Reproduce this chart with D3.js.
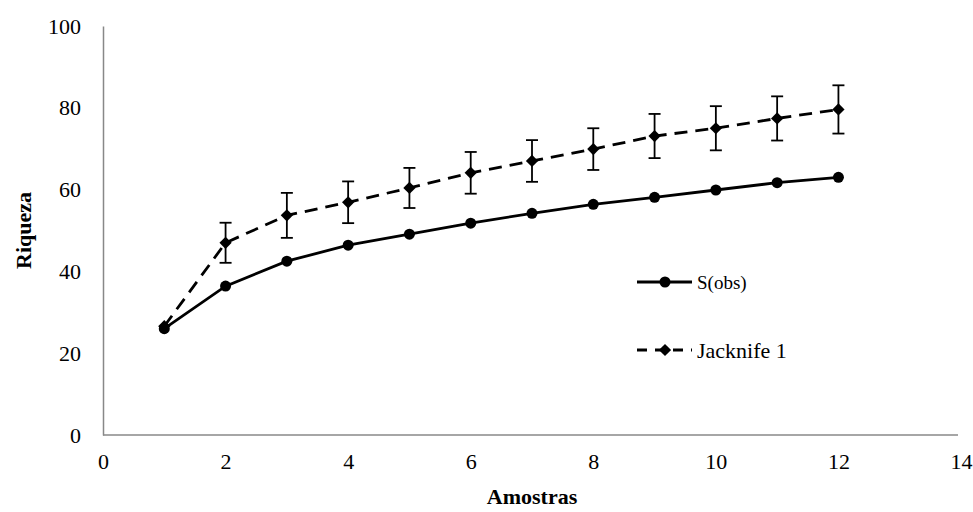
<!DOCTYPE html>
<html>
<head>
<meta charset="utf-8">
<script src="https://cdn.jsdelivr.net/npm/d3@7"></script>
<style>
  body { margin: 0; background: #fff; }
</style>
</head>
<body>
<div id="chart"></div>
<script>
// data
const samples = [1, 2, 3, 4, 5, 6, 7, 8, 9, 10, 11, 12];
const sObs = [26.0, 36.4, 42.5, 46.4, 49.1, 51.8, 54.2, 56.4, 58.1, 59.9, 61.7, 63.0];
const jack1 = [26.6, 47.0, 53.7, 56.9, 60.4, 64.1, 67.0, 69.9, 73.1, 75.0, 77.4, 79.6];
const jackErr = [0, 4.9, 5.5, 5.1, 4.9, 5.1, 5.1, 5.1, 5.4, 5.4, 5.4, 5.9];
const xTicks = [0, 2, 4, 6, 8, 10, 12, 14];
const yTicks = [0, 20, 40, 60, 80, 100];

const serif = "'Liberation Serif', 'Times New Roman', Times, 'DejaVu Serif', serif";
const width = 973, height = 512;
const margin = {top: 26, right: 12, bottom: 77, left: 103};

const svg = d3.select("#chart")
    .append("svg")
    .attr("width", width)
    .attr("height", height)
    .style("font-family", serif);

const x = d3.scaleLinear().domain([0, 14]).range([margin.left, width - margin.right]);
const y = d3.scaleLinear().domain([0, 100]).range([height - margin.bottom, margin.top]);

// axes
const xAxis = svg.append("g")
    .attr("transform", `translate(0,${height - margin.bottom})`)
    .call(d3.axisBottom(x).tickValues(xTicks).tickSize(0).tickPadding(18));
xAxis.attr("font-family", null);
xAxis.select(".domain").attr("stroke", "#888").attr("stroke-width", 1.5)
    .attr("d", `M${margin.left},0H${width - 15}`);
xAxis.selectAll("text").attr("fill", "#000")
    .style("font-family", serif).style("font-size", "22px");

const yAxis = svg.append("g")
    .attr("transform", `translate(${margin.left},0)`)
    .call(d3.axisLeft(y).tickValues(yTicks).tickSize(0).tickPadding(22));
yAxis.attr("font-family", null);
yAxis.select(".domain").attr("stroke", "#888").attr("stroke-width", 1.5);
yAxis.selectAll("text").attr("fill", "#000")
    .style("font-family", serif).style("font-size", "22px");

// axis titles
svg.append("text")
    .attr("x", x(7)).attr("y", 504)
    .attr("text-anchor", "middle")
    .style("font-family", serif).style("font-size", "22px").style("font-weight", "bold")
    .text("Amostras");
svg.append("text")
    .attr("transform", `translate(31,${y(50)}) rotate(-90)`)
    .attr("text-anchor", "middle")
    .style("font-family", serif).style("font-size", "22px").style("font-weight", "bold")
    .text("Riqueza");

const line = d3.line().x((d, i) => x(samples[i])).y(d => y(d));

// jackknife 1 (dashed) with error bars
svg.append("path")
    .datum(jack1)
    .attr("fill", "none")
    .attr("stroke", "#000")
    .attr("stroke-width", 2.8)
    .attr("stroke-dasharray", "13,8")
    .attr("d", line);

const err = svg.append("g").attr("stroke", "#000").attr("stroke-width", 1.8);
samples.forEach((s, i) => {
  if (!jackErr[i]) return;
  const cx = x(s), top = y(jack1[i] + jackErr[i]), bot = y(jack1[i] - jackErr[i]);
  err.append("line").attr("x1", cx).attr("x2", cx).attr("y1", top).attr("y2", bot);
  err.append("line").attr("x1", cx - 6).attr("x2", cx + 6).attr("y1", top).attr("y2", top);
  err.append("line").attr("x1", cx - 6).attr("x2", cx + 6).attr("y1", bot).attr("y2", bot);
});

const diamond = d3.symbol().type(d3.symbolSquare).size(75);
svg.selectAll(".jk")
    .data(jack1)
    .enter()
    .append("path")
    .attr("class", "jk")
    .attr("transform", (d, i) => `translate(${x(samples[i])},${y(d)}) rotate(45)`)
    .attr("d", diamond)
    .attr("fill", "#000");

// S(obs) solid
svg.append("path")
    .datum(sObs)
    .attr("fill", "none")
    .attr("stroke", "#000")
    .attr("stroke-width", 2.8)
    .attr("d", line);

svg.selectAll(".obs")
    .data(sObs)
    .enter()
    .append("circle")
    .attr("class", "obs")
    .attr("cx", (d, i) => x(samples[i]))
    .attr("cy", d => y(d))
    .attr("r", 5.5)
    .attr("fill", "#000");

// legend
const lg = svg.append("g");
lg.append("line").attr("x1", 637).attr("x2", 692).attr("y1", 282).attr("y2", 282)
    .attr("stroke", "#000").attr("stroke-width", 2.8);
lg.append("circle").attr("cx", 665).attr("cy", 282).attr("r", 5.5).attr("fill", "#000");
lg.append("text").attr("x", 697).attr("y", 289)
    .style("font-family", serif).style("font-size", "19px").text("S(obs)");

lg.append("line").attr("x1", 637).attr("x2", 692).attr("y1", 350).attr("y2", 350)
    .attr("stroke", "#000").attr("stroke-width", 2.8).attr("stroke-dasharray", "10,8");
lg.append("path").attr("transform", "translate(665,350) rotate(45)").attr("d", diamond).attr("fill", "#000");
lg.append("text").attr("x", 697).attr("y", 358)
    .style("font-family", serif).style("font-size", "22px").text("Jacknife 1");
</script>
</body>
</html>
